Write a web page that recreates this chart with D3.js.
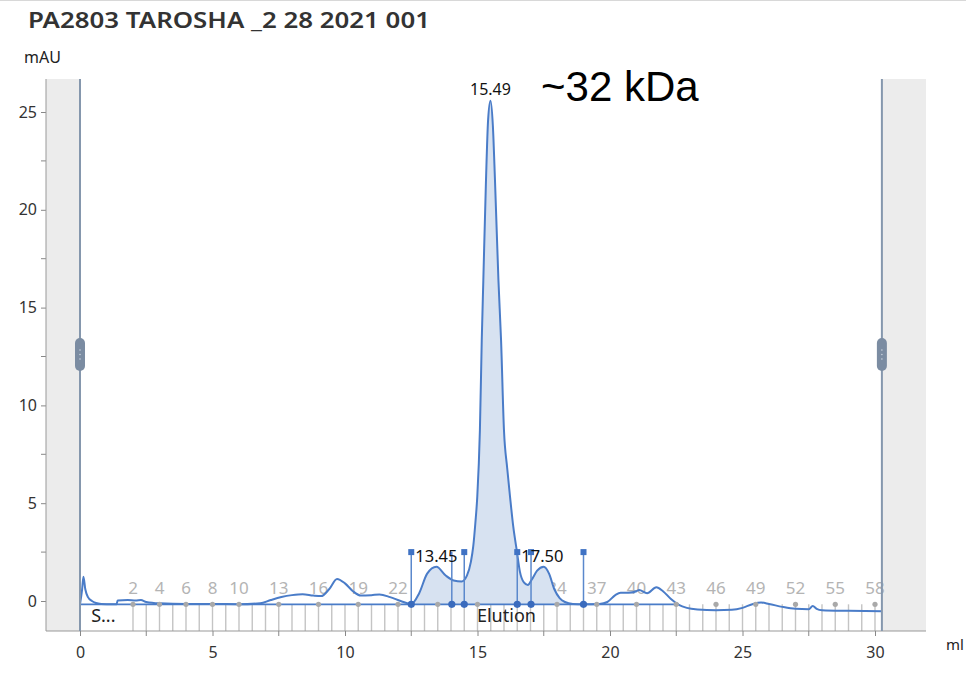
<!DOCTYPE html>
<html>
<head>
<meta charset="utf-8">
<script src="https://cdn.jsdelivr.net/npm/d3@7"></script>
<style>
  body { margin: 0; background: #fff; }
  svg { display: block; }
</style>
</head>
<body>
<svg id="chart" width="966" height="678"></svg>
<script>
// UV absorbance trace (ml vs mAU)
const volume = [0.00, 0.08, 0.13, 0.20, 0.30, 0.45, 0.60, 0.80, 1.20, 1.38, 1.42, 1.80, 2.10, 2.30, 2.50, 3.00,
  4.00, 5.00, 6.00, 6.80, 7.20, 7.60, 8.00, 8.40, 8.80, 9.10, 9.40, 9.70, 10.00, 10.30, 10.60, 11.00, 11.30,
  11.70, 12.10, 12.50, 12.80, 13.10, 13.45, 13.80, 14.10, 14.40, 14.60, 14.75, 14.84, 14.92, 14.99, 15.09,
  15.16, 15.22, 15.32, 15.40, 15.49, 15.58, 15.66, 15.79, 15.89, 16.00, 16.12, 16.23, 16.35, 16.48, 16.60,
  16.75, 16.90, 17.05, 17.25, 17.50, 17.70, 17.90, 18.10, 18.30, 18.60, 19.00, 19.60, 19.90, 20.20, 20.40,
  20.70, 21.00, 21.10, 21.40, 21.75, 22.00, 22.30, 22.60, 22.90, 23.30, 24.00, 24.60, 25.00, 25.40, 25.70,
  26.00, 26.50, 27.00, 27.50, 27.65, 27.80, 28.00, 29.00, 30.26];
const absorbance = [-0.17, 0.60, 1.24, 0.60, 0.20, 0.00, -0.10, -0.15, -0.17, -0.17, 0.03, 0.05, 0.02, 0.05, -0.05, -0.12,
  -0.15, -0.15, -0.16, -0.12, 0.05, 0.20, 0.30, 0.35, 0.28, 0.25, 0.60, 1.13, 0.90, 0.50, 0.28, 0.30, 0.33,
  0.20, 0.00, -0.15, 0.40, 1.40, 1.75, 1.30, 1.05, 1.00, 1.30, 2.00, 2.80, 4.00, 5.30, 8.70,
  13.30, 16.40, 21.50, 24.60, 25.58, 24.30, 21.50, 16.40, 13.30, 8.70, 6.80, 5.30, 3.80, 2.60, 1.50,
  0.95, 0.82, 1.10, 1.55, 1.75, 1.40, 0.60, 0.15, -0.05, -0.15, -0.17, -0.15, -0.05, 0.30, 0.42,
  0.42, 0.50, 0.56, 0.40, 0.70, 0.50, 0.10, -0.20, -0.35, -0.43, -0.47, -0.45, -0.35, -0.15, -0.08,
  -0.15, -0.30, -0.40, -0.42, -0.25, -0.40, -0.47, -0.50, -0.52];

// Integration baseline
const baselineVolumes = [0.00, 22.60];
const baselineLevel = -0.17;

// Integrated region (filled)
const integrationStart = 12.50;
const integrationEnd = 19.00;

// Peak boundary markers
const peakBoundaryVolumes = [12.50, 14.03, 14.50, 16.50, 17.02, 19.00];
const peakBoundaryHasCap = [true, false, true, true, true, true];
const peakMarkerHeight = 2.5;

// Peak retention labels
const peakLabels = ["13.45", "17.50"];
const peakLabelVolumes = [12.50, 16.50];
const mainPeakLabel = "15.49";
const mainPeakVolume = 15.49;
const mainPeakHeight = 25.58;

// Fractions
const fractionVolumes = [2.0, 2.5, 3.0, 3.5, 4.0, 4.5, 5.0, 5.5, 6.0, 6.5, 7.0, 7.5, 8.0, 8.5, 9.0, 9.5, 10.0,
  10.5, 11.0, 11.5, 12.0, 12.5, 13.0, 13.5, 14.0, 14.5, 15.0, 15.5, 16.0, 16.5, 17.0, 17.5, 18.0, 18.5, 19.0,
  19.5, 20.0, 20.5, 21.0, 21.5, 22.0, 22.5, 23.0, 23.5, 24.0, 24.5, 25.0, 25.5, 26.0, 26.5, 27.0, 27.5, 28.0,
  28.5, 29.0, 29.5, 30.0];
const fractionLabels = ["2", "4", "6", "8", "10", "13", "16", "19", "22", "25", "28", "31", "34", "37", "40",
  "43", "46", "49", "52", "55", "58"];
const fractionLabelVolumes = [2.0, 3.0, 4.0, 5.0, 6.0, 7.5, 9.0, 10.5, 12.0, 13.5, 15.0, 16.5, 18.0, 19.5,
  21.0, 22.5, 24.0, 25.5, 27.0, 28.5, 30.0];

// Method phases
const phaseLabels = ["S...", "Elution"];
const phaseLabelVolumes = [0.42, 14.98];

// Axes
const yTicks = [0, 5, 10, 15, 20, 25];
const yMinorTicks = [2.5, 7.5, 12.5, 17.5, 22.5];
const xTicks = [0, 5, 10, 15, 20, 25, 30];
const xMinorTicks = [2.5, 7.5, 12.5, 17.5, 22.5, 27.5];

// View range handles
const handleVolumes = [0, 30.26];

const title = "PA2803 TAROSHA _2 28 2021 001";
const annotation = "~32 kDa";

// ---- layout ----
const svg = d3.select("#chart");
const plot = { left: 46, right: 926, top: 79, bottom: 631 };
const x = d3.scaleLinear().domain([0, 30]).range([80, 875]);
const y = d3.scaleLinear().domain([0, 25]).range([601, 112]);
const blue = "#4a7cc8";
const font = "'Noto Sans', 'Open Sans', sans-serif";

svg.append("rect").attr("width", 966).attr("height", 678).attr("fill", "#fff");
svg.append("line").attr("x1", 0).attr("x2", 966).attr("y1", 0.5).attr("y2", 0.5)
  .attr("stroke", "#d8d8d8");

svg.append("text").attr("x", 28).attr("y", 28)
  .attr("font-family", font).attr("font-weight", 600).attr("font-size", 22)
  .attr("textLength", 402).attr("lengthAdjust", "spacingAndGlyphs")
  .attr("fill", "#333").text(title);

svg.append("text").attr("x", 24).attr("y", 63)
  .attr("font-family", font).attr("font-size", 16).attr("fill", "#222").text("mAU");

// Shaded regions outside the handles
svg.append("rect").attr("x", plot.left).attr("y", plot.top)
  .attr("width", x(handleVolumes[0]) - plot.left).attr("height", plot.bottom - plot.top)
  .attr("fill", "#ececec");
svg.append("rect").attr("x", x(handleVolumes[1])).attr("y", plot.top)
  .attr("width", plot.right - x(handleVolumes[1])).attr("height", plot.bottom - plot.top)
  .attr("fill", "#ececec");

// Y axis
const yAxis = d3.axisLeft(y).tickValues(yTicks).tickSize(5).tickPadding(4);
const gy = svg.append("g").attr("transform", `translate(${plot.left},0)`).call(yAxis);
gy.select(".domain").remove();
gy.selectAll(".tick line").attr("stroke", "#888");
gy.selectAll(".tick text").attr("font-family", font).attr("font-size", 16).attr("fill", "#333");
svg.append("g").selectAll("line").data(yMinorTicks).join("line")
  .attr("x1", plot.left - 5).attr("x2", plot.left)
  .attr("y1", d => y(d)).attr("y2", d => y(d)).attr("stroke", "#888");
svg.append("line").attr("x1", plot.left).attr("x2", plot.left)
  .attr("y1", plot.top).attr("y2", plot.bottom).attr("stroke", "#999");

// Fraction marks
svg.append("g").selectAll("line").data(fractionVolumes).join("line")
  .attr("x1", d => x(d)).attr("x2", d => x(d))
  .attr("y1", y(baselineLevel)).attr("y2", plot.bottom)
  .attr("stroke", "#c4c4c4").attr("stroke-width", 1.4);
svg.append("g").selectAll("text").data(fractionLabels).join("text")
  .attr("x", (d, i) => x(fractionLabelVolumes[i])).attr("y", 594)
  .attr("text-anchor", "middle").attr("font-family", font).attr("font-size", 17)
  .attr("fill", "#b4b4b4").text(d => d);

// Integrated area
const trace = volume.map((v, i) => ({ v, a: absorbance[i] }));
const area = d3.area().x(d => x(d.v)).y0(y(baselineLevel)).y1(d => y(d.a)).curve(d3.curveMonotoneX);
svg.append("path")
  .datum(trace.filter(d => d.v >= integrationStart && d.v <= integrationEnd))
  .attr("d", area).attr("fill", "#d7e2f1");

// Baseline
svg.append("line").attr("x1", x(baselineVolumes[0])).attr("x2", x(baselineVolumes[1]))
  .attr("y1", y(baselineLevel)).attr("y2", y(baselineLevel))
  .attr("stroke", blue).attr("stroke-width", 1.6);

// Curve
const line = d3.line().x(d => x(d.v)).y(d => y(d.a)).curve(d3.curveMonotoneX);
svg.append("path").datum(trace).attr("d", line)
  .attr("fill", "none").attr("stroke", blue).attr("stroke-width", 2);

// Fraction dots
svg.append("g").selectAll("circle").data(fractionLabelVolumes).join("circle")
  .attr("cx", d => x(d)).attr("cy", y(baselineLevel)).attr("r", 2.6).attr("fill", "#a9a9a9");

// Peak boundary markers
const pm = svg.append("g");
pm.selectAll("line").data(peakBoundaryVolumes).join("line")
  .attr("x1", d => x(d)).attr("x2", d => x(d))
  .attr("y1", y(baselineLevel)).attr("y2", y(peakMarkerHeight))
  .attr("stroke", "#5b88cc").attr("stroke-width", 1.5);
pm.selectAll("rect").data(peakBoundaryVolumes.filter((d, i) => peakBoundaryHasCap[i])).join("rect")
  .attr("x", d => x(d) - 3).attr("y", y(peakMarkerHeight) - 3).attr("width", 6).attr("height", 6)
  .attr("fill", "#3f72c4");
pm.selectAll("circle").data(peakBoundaryVolumes).join("circle")
  .attr("cx", d => x(d)).attr("cy", y(baselineLevel)).attr("r", 3.6).attr("fill", "#3a6bbd");

// Peak labels
svg.append("g").selectAll("text").data(peakLabels).join("text")
  .attr("x", (d, i) => x(peakLabelVolumes[i]) + 4).attr("y", 562)
  .attr("font-family", font).attr("font-size", 16.5).attr("fill", "#111").text(d => d);
svg.append("text").attr("x", x(mainPeakVolume)).attr("y", y(mainPeakHeight) - 6)
  .attr("text-anchor", "middle").attr("font-family", font).attr("font-size", 16)
  .attr("fill", "#111").text(mainPeakLabel);

// Phase labels
svg.append("g").selectAll("text").data(phaseLabels).join("text")
  .attr("x", (d, i) => x(phaseLabelVolumes[i])).attr("y", 622)
  .attr("font-family", font).attr("font-size", 18).attr("fill", "#222").text(d => d);

// X axis
svg.append("line").attr("x1", plot.left).attr("x2", plot.right)
  .attr("y1", plot.bottom).attr("y2", plot.bottom).attr("stroke", "#999");
const xAxis = d3.axisBottom(x).tickValues(xTicks).tickSize(5).tickPadding(11);
const gx = svg.append("g").attr("transform", `translate(0,${plot.bottom})`).call(xAxis);
gx.select(".domain").remove();
gx.selectAll(".tick line").attr("stroke", "#888");
gx.selectAll(".tick text").attr("font-family", font).attr("font-size", 16).attr("fill", "#333");
svg.append("g").selectAll("line").data(xMinorTicks).join("line")
  .attr("x1", d => x(d)).attr("x2", d => x(d))
  .attr("y1", plot.bottom).attr("y2", plot.bottom + 5).attr("stroke", "#888");
svg.append("text").attr("x", 946).attr("y", 650)
  .attr("font-family", font).attr("font-size", 15).attr("fill", "#222").text("ml");

// View range handles
const hg = svg.append("g");
hg.selectAll("line").data(handleVolumes).join("line")
  .attr("x1", d => x(d)).attr("x2", d => x(d))
  .attr("y1", plot.top).attr("y2", plot.bottom)
  .attr("stroke", "#8597ad").attr("stroke-width", 2);
hg.selectAll("rect").data(handleVolumes).join("rect")
  .attr("x", d => x(d) - 5).attr("y", 338).attr("width", 10).attr("height", 33).attr("rx", 5)
  .attr("fill", "#7b8ca2");
hg.selectAll("g.grip").data(handleVolumes).join("g").attr("class", "grip")
  .selectAll("circle").data(d => [350, 354.5, 359].map(cy => ({ cx: x(d), cy })))
  .join("circle").attr("cx", d => d.cx).attr("cy", d => d.cy).attr("r", 0.8).attr("fill", "#c9d2dc");

// Annotation
svg.append("text").attr("x", 541).attr("y", 101)
  .attr("font-family", "'Liberation Sans', Arial, sans-serif").attr("font-size", 42)
  .attr("fill", "#000").text(annotation);
</script>
</body>
</html>
